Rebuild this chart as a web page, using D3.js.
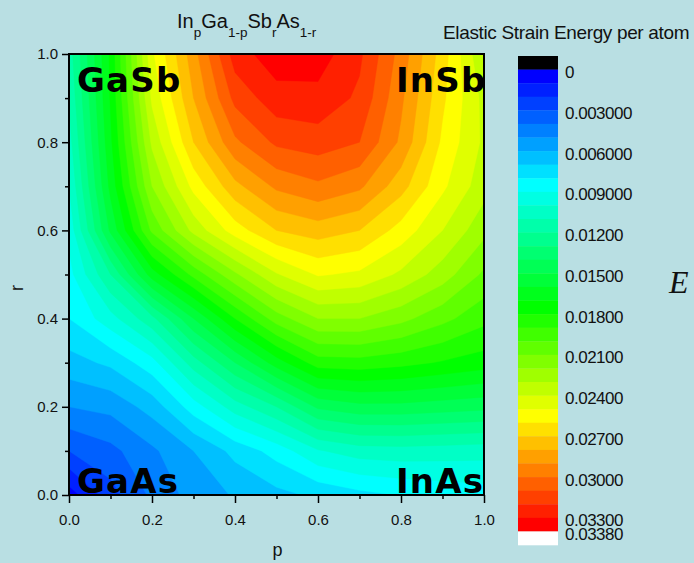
<!DOCTYPE html>
<html><head><meta charset="utf-8">
<script src="https://cdn.jsdelivr.net/npm/d3@7"></script>
<style>
html,body{margin:0;padding:0;background:#b9dfe3;}
svg{display:block;}
text{font-family:"Liberation Sans",Arial,sans-serif;fill:#111;}
</style></head><body>
<svg id="chart" width="694" height="563"></svg>
<script>
// ---- data (energy per atom) ----
const pValues = [0, 0.1, 0.2, 0.3, 0.4, 0.5, 0.6, 0.7, 0.8, 0.9, 1.0];
const rValues = [0, 0.1, 0.2, 0.3, 0.4, 0.5, 0.6, 0.7, 0.8, 0.9, 1.0];
const energyR00 = [0.0005, 0.0026, 0.0042, 0.0054, 0.0061, 0.0067, 0.0072, 0.0077, 0.00805, 0.0083, 0.0085];
const energyR01 = [0.0030, 0.0037, 0.0048, 0.0060, 0.0073, 0.0084, 0.0099, 0.0105, 0.0106, 0.0105, 0.0104];
const energyR02 = [0.0050, 0.0053, 0.0064, 0.0085, 0.0105, 0.0120, 0.0142, 0.0147, 0.0147, 0.0145, 0.0143];
const energyR03 = [0.0066, 0.0072, 0.0086, 0.0115, 0.0140, 0.0165, 0.0185, 0.0186, 0.0183, 0.0179, 0.0175];
const energyR04 = [0.0080, 0.0096, 0.0117, 0.0150, 0.0180, 0.0205, 0.0220, 0.0220, 0.0213, 0.0203, 0.0193];
const energyR05 = [0.00865, 0.0120, 0.0165, 0.0193, 0.0218, 0.0239, 0.0251, 0.0248, 0.0238, 0.0225, 0.0208];
const energyR06 = [0.0093, 0.0152, 0.0202, 0.0233, 0.0255, 0.0270, 0.0275, 0.0270, 0.0256, 0.0240, 0.0223];
const energyR07 = [0.0100, 0.0163, 0.0220, 0.0253, 0.0277, 0.0292, 0.0298, 0.0292, 0.0274, 0.0252, 0.0234];
const energyR08 = [0.0106, 0.0168, 0.0232, 0.0270, 0.0298, 0.0312, 0.0315, 0.0310, 0.0288, 0.0258, 0.0238];
const energyR09 = [0.0111, 0.0171, 0.0242, 0.0280, 0.0313, 0.0326, 0.0327, 0.0318, 0.0292, 0.0262, 0.0237];
const energyR10 = [0.0115, 0.0172, 0.0248, 0.0286, 0.0325, 0.0336, 0.0335, 0.0322, 0.0296, 0.0265, 0.0230];
const energyRows = [energyR00, energyR01, energyR02, energyR03, energyR04, energyR05,
                    energyR06, energyR07, energyR08, energyR09, energyR10];

const levels = [0, 0.001, 0.002, 0.003, 0.004, 0.005, 0.006, 0.007, 0.008, 0.009,
                0.010, 0.011, 0.012, 0.013, 0.014, 0.015, 0.016, 0.017, 0.018, 0.019,
                0.020, 0.021, 0.022, 0.023, 0.024, 0.025, 0.026, 0.027, 0.028, 0.029,
                0.030, 0.031, 0.032, 0.033, 0.0338];
const bandColors = ["#0000ff", "#0020ff", "#0040ff", "#0060ff", "#0080ff", "#00a0ff", "#00c0ff", "#00e0ff",
                    "#00ffff", "#00ffe3", "#00ffc6", "#00ffaa", "#00ff8e", "#00ff71", "#00ff55", "#00ff39",
                    "#00ff1c", "#00ff00", "#20ff00", "#40ff00", "#60ff00", "#80ff00", "#a0ff00", "#c0ff00",
                    "#e0ff00", "#ffff00", "#ffe000", "#ffc000", "#ffa000", "#ff8000", "#ff6000", "#ff4000",
                    "#ff2000", "#ff0000"];
const belowColor = "#000000";
const aboveColor = "#ffffff";
const legendTickValues = [0, 0.003, 0.006, 0.009, 0.012, 0.015, 0.018, 0.021, 0.024, 0.027, 0.030, 0.033, 0.0338];
const legendTickLabels = ["0", "0.003000", "0.006000", "0.009000", "0.01200", "0.01500", "0.01800",
                          "0.02100", "0.02400", "0.02700", "0.03000", "0.03300", "0.03380"];
const axisTicks = [0, 0.2, 0.4, 0.6, 0.8, 1.0];
const axisMinorTicks = [0.1, 0.3, 0.5, 0.7, 0.9];
const cornerNames = ["GaSb", "InSb", "GaAs", "InAs"];

// ---- layout ----
const svg = d3.select("#chart");
const X0 = 69, X1 = 484, Y0 = 495, Y1 = 54;
const x = d3.scaleLinear().domain([0, 1]).range([X0, X1]);
const y = d3.scaleLinear().domain([0, 1]).range([Y0, Y1]);

svg.append("defs").append("clipPath").attr("id", "plotclip")
  .append("rect").attr("x", X0).attr("y", Y1).attr("width", X1 - X0).attr("height", Y0 - Y1);

// contours
const nx = pValues.length, ny = rValues.length;
const flat = [];
for (let j = 0; j < ny; j++) for (let i = 0; i < nx; i++) flat.push(energyRows[j][i]);
const contours = d3.contours().size([nx, ny]).thresholds(levels)(flat);
const gx = d3.scaleLinear().domain([0.5, nx - 0.5]).range([x(pValues[0]), x(pValues[nx - 1])]);
const gy = d3.scaleLinear().domain([0.5, ny - 0.5]).range([y(rValues[0]), y(rValues[ny - 1])]);
const proj = d3.geoTransform({ point(px, py) { this.stream.point(gx(px), gy(py)); } });
const path = d3.geoPath(proj);

const gPlot = svg.append("g").attr("clip-path", "url(#plotclip)");
gPlot.append("rect").attr("x", X0).attr("y", Y1).attr("width", X1 - X0).attr("height", Y0 - Y1)
  .attr("fill", belowColor);
gPlot.selectAll("path.band").data(contours).join("path")
  .attr("class", "band")
  .attr("d", path)
  .attr("fill", (d, i) => i < bandColors.length ? bandColors[i] : aboveColor)
  .attr("stroke", (d, i) => i < bandColors.length ? bandColors[i] : aboveColor)
  .attr("stroke-width", 0.4);

// frame
svg.append("rect").attr("x", X0).attr("y", Y1).attr("width", X1 - X0).attr("height", Y0 - Y1)
  .attr("fill", "none").attr("stroke", "#000").attr("stroke-width", 2);

// axes
function styleAxis(g) {
  g.select(".domain").remove();
  g.selectAll("line").attr("stroke", "#000").attr("stroke-width", 1.5);
  g.selectAll("text").style("font-size", "15px").attr("fill", "#111")
   .style("font-family", '"Liberation Sans", Arial, sans-serif');
}
svg.append("g").attr("transform", `translate(0,${Y0})`)
  .call(d3.axisBottom(x).tickValues(axisTicks).tickFormat(d3.format(".1f")).tickSize(8).tickPadding(11))
  .call(styleAxis);
svg.append("g").attr("transform", `translate(0,${Y0})`)
  .call(d3.axisBottom(x).tickValues(axisMinorTicks).tickFormat("").tickSize(4))
  .call(styleAxis);
svg.append("g").attr("transform", `translate(${X0},0)`)
  .call(d3.axisLeft(y).tickValues(axisTicks).tickFormat(d3.format(".1f")).tickSize(7).tickPadding(4))
  .call(styleAxis);
svg.append("g").attr("transform", `translate(${X0},0)`)
  .call(d3.axisLeft(y).tickValues(axisMinorTicks).tickFormat("").tickSize(4))
  .call(styleAxis);

// axis titles
svg.append("text").attr("x", (X0 + X1) / 2 + 1).attr("y", 556).attr("text-anchor", "middle")
  .style("font-size", "18px").text("p");
svg.append("text").attr("transform", "translate(23,288) rotate(-90)").attr("text-anchor", "middle")
  .style("font-size", "18px").text("r");

// title with subscripts
const title = svg.append("text").attr("x", 177).attr("y", 28).style("font-size", "20px");
const parts = [["In", 0], ["p", 1], ["Ga", 0], ["1-p", 1], ["Sb", 0], ["r", 1], ["As", 0], ["1-r", 1]];
let prevSub = 0;
parts.forEach(([t, sub]) => {
  const dy = sub === prevSub ? 0 : (sub ? 8.5 : -8.5);
  title.append("tspan").attr("dy", dy).style("font-size", sub ? "13.5px" : "20px").text(t);
  prevSub = sub;
});

// corner labels
const cornerPos = [[77, 92], [396, 92], [77, 493], [396, 493]];
svg.selectAll("text.corner").data(cornerNames).join("text").attr("class", "corner")
  .attr("x", (d, i) => cornerPos[i][0]).attr("y", (d, i) => cornerPos[i][1])
  .style("font-family", '"DejaVu Sans", Verdana, sans-serif')
  .style("font-size", "34px").style("font-weight", "bold").style("letter-spacing", "1.2px")
  .style("fill", "#000").text(d => d);

// colour bar
const nBands = bandColors.length + 2;
const legY = d3.scaleLinear().domain([0, nBands]).range([56, 545]);
const legendColors = [belowColor, ...bandColors, aboveColor];
svg.selectAll("rect.leg").data(legendColors).join("rect").attr("class", "leg")
  .attr("x", 518).attr("width", 40)
  .attr("y", (d, i) => legY(i)).attr("height", (d, i) => legY(i + 1) - legY(i) + 0.3)
  .attr("fill", d => d);
svg.selectAll("text.legtick").data(legendTickValues).join("text").attr("class", "legtick")
  .attr("x", 565)
  .attr("y", d => legY(levels.indexOf(d) + 1) + 2.5)
  .attr("dy", "0.35em")
  .style("font-size", "17px").style("letter-spacing", "-0.5px")
  .text((d, i) => legendTickLabels[i]);
svg.append("text").attr("x", 443).attr("y", 39).style("font-size", "19px").style("letter-spacing", "-0.35px")
  .text("Elastic Strain Energy per atom");

// partially visible symbol at the right edge
svg.append("text").attr("x", 669).attr("y", 293)
  .style("font-family", '"Liberation Serif", "Times New Roman", serif').style("font-style", "italic")
  .style("font-size", "32px").text("E");
</script>
</body></html>
